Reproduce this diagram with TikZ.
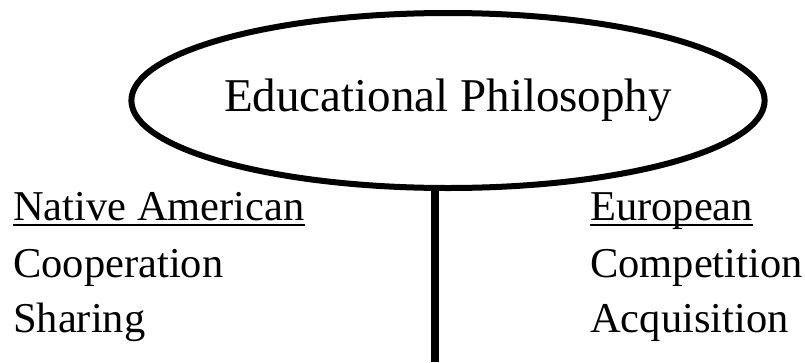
\documentclass[tikz,border=0pt]{standalone}
\usepackage{fontspec}
\setmainfont{Liberation Serif}
\usetikzlibrary{shapes.geometric}

\newcommand{\ulhead}[1]{\setbox0\hbox{#1}\rlap{\rule[-6.2pt]{\wd0}{2.4pt}}\box0}
\tikzset{
  item/.style={anchor=base west, inner sep=0pt, font=\fontsize{42.5}{50}\selectfont},
}

\begin{document}
\begin{tikzpicture}[x=1pt,y=1pt]
  \useasboundingbox (0,0) rectangle (805,-362);

  \node[ellipse, draw, line width=6pt, minimum width=596pt, minimum height=175pt, inner sep=0pt,
        font=\fontsize{47}{56}\selectfont] (phil) at (448,-100.5) {Educational Philosophy};
  \coordinate (stem) at (435,-362);
  \draw[line width=7.5pt] (phil.south -| stem) -- (stem);

  \node[item] (native) at (13,-220) {\ulhead{Native American}};
  \node[item] (euro) at (590,-220) {\ulhead{European}};

  \foreach \name/\word/\yy in {coop/Cooperation/277, share/Sharing/332}
    \node[item] (\name) at (13,-\yy) {\word};
  \foreach \name/\word/\yy in {comp/Competition/277, acq/Acquisition/332}
    \node[item] (\name) at (590,-\yy) {\word};
\end{tikzpicture}
\end{document}
